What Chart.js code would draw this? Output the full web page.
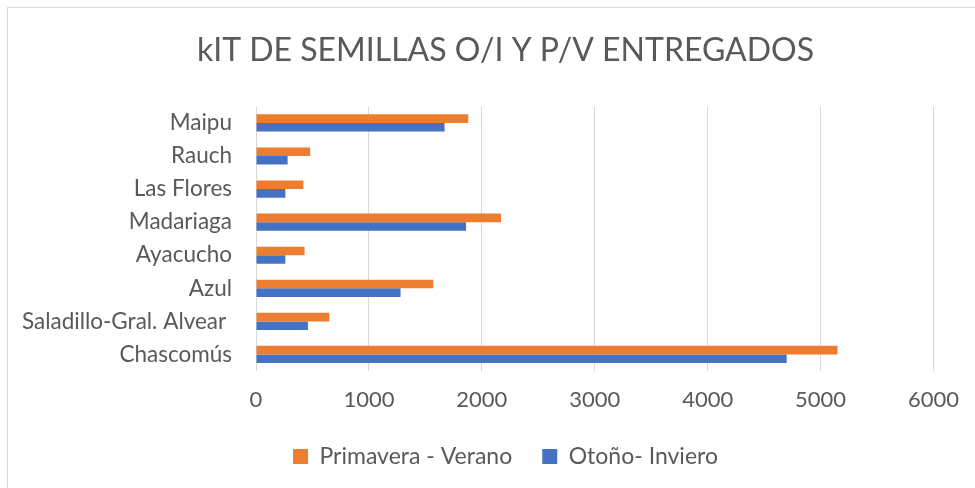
<!DOCTYPE html>
<html>
<head>
<meta charset="utf-8">
<script src="https://cdn.jsdelivr.net/npm/chart.js@4/dist/chart.umd.min.js"></script>
<style>
  html, body { margin: 0; padding: 0; background: #fff; }
  #wrap { position: relative; width: 975px; height: 488px; }
  #frame { position: absolute; left: 7px; top: 7px; right: -5px; bottom: -5px;
           border-left: 1px solid #d9d9d9; border-top: 1px solid #d9d9d9; }
  canvas { position: absolute; left: 0; top: 0; }
</style>
</head>
<body>
<div id="wrap">
  <div id="frame"></div>
  <canvas id="chart" width="975" height="488"></canvas>
</div>
<script>
// datos del grafico
var partidos = ["Maipu", "Rauch", "Las Flores", "Madariaga", "Ayacucho", "Azul", "Saladillo-Gral. Alvear ", "Chascomús"];
var primaveraVerano = [1880, 480, 420, 2170, 430, 1570, 650, 5150];
var otonoInvierno = [1670, 280, 260, 1860, 260, 1280, 460, 4700];
var ticksX = [0, 1000, 2000, 3000, 4000, 5000, 6000];

var gris = "#595959";
var fuente = "Lato, 'Open Sans', sans-serif";

// el eje y se deja mas angosto que sus etiquetas, asi que se amplia el recorte
var ampliarEjeY = {
    id: "ampliarEjeY",
    afterLayout: function(chart){
        chart.scales.y.left = 0;
    }
};

new Chart(document.getElementById("chart"), {
    type: "bar",
    data: {
        labels: partidos,
        datasets: [{
            label: "Primavera - Verano",
            data: primaveraVerano,
            backgroundColor: "#ED7D31"
        }, {
            label: "Otoño- Inviero",
            data: otonoInvierno,
            backgroundColor: "#4472C4"
        }]
    },
    plugins: [ampliarEjeY],
    options: {
        indexAxis: "y",
        responsive: false,
        animation: false,
        categoryPercentage: 0.52,
        barPercentage: 1.0,
        // titulo y leyenda centrados algo a la derecha, como en el original
        layout: { padding: { left: 68, right: 32, top: 10, bottom: 10 } },
        plugins: {
            title: {
                display: true,
                text: "kIT DE SEMILLAS O/I Y P/V ENTREGADOS",
                color: gris,
                font: { family: fuente, size: 32, weight: "normal", lineHeight: 1.2 },
                padding: { top: 21, bottom: 37 }
            },
            legend: {
                position: "bottom",
                labels: {
                    color: gris,
                    font: { family: fuente, size: 23 },
                    boxWidth: 15,
                    boxHeight: 15,
                    padding: 30
                }
            },
            tooltip: { enabled: false }
        },
        scales: {
            x: {
                min: 0,
                max: 6000,
                afterBuildTicks: function(scale){
                    scale.ticks = ticksX.map(function(v){ return { value: v }; });
                },
                grid: { color: "#d9d9d9", drawTicks: false },
                border: { display: false },
                ticks: {
                    color: gris,
                    font: { family: fuente, size: 22 },
                    padding: 16,
                    callback: function(v){ return String(v); }
                },
                afterFit: function(scale){ scale.height = 44; }
            },
            y: {
                grid: { display: false },
                border: { display: false },
                ticks: { color: gris, font: { family: fuente, size: 22.5 }, padding: 16 },
                afterFit: function(scale){ scale.width = 188; }
            }
        }
    }
});
</script>
</body>
</html>
